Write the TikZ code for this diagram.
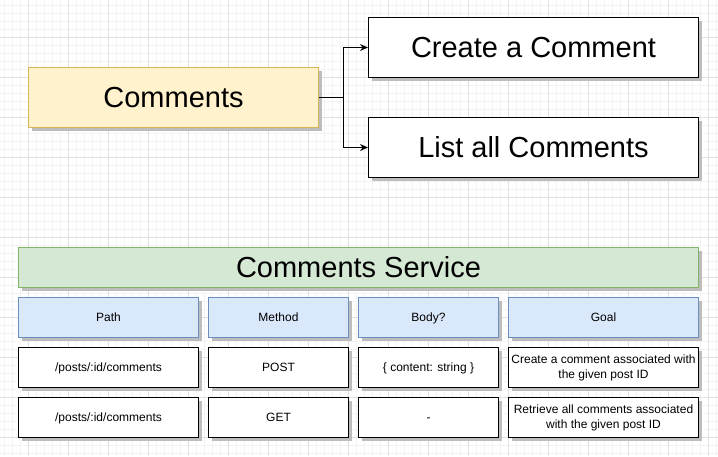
\documentclass[tikz,border=0pt]{standalone}
\usepackage{fontspec}
\setmainfont{Liberation Sans}
\usetikzlibrary{shadows,arrows.meta}
\definecolor{yfill}{HTML}{FFF2CC}
\definecolor{ydraw}{HTML}{D6B656}
\definecolor{gfill}{HTML}{D5E8D4}
\definecolor{gdraw}{HTML}{82B366}
\definecolor{bfill}{HTML}{DAE8FC}
\definecolor{bdraw}{HTML}{6C8EBF}
\definecolor{gridminor}{HTML}{F3F3F3}
\definecolor{gridmajor}{HTML}{E0E0E0}
\definecolor{shadowc}{HTML}{BDBDBD}
\tikzset{
  shd/.style={drop shadow={shadow xshift=3pt,shadow yshift=-3pt,fill=shadowc,opacity=1}},
  basebox/.style={rectangle,draw=black,fill=white,line width=1pt,inner sep=0pt,align=center,shd},
  bigbox/.style={basebox,font=\fontsize{29}{34}\selectfont,text height=20.8pt,text depth=0pt},
  cellbase/.style={basebox,minimum height=40pt,font=\fontsize{12}{15}\selectfont},
  cell/.style={cellbase,text height=8.6pt,text depth=0pt},
  mcell/.style={cellbase},
  headcell/.style={cell,fill=bfill,draw=bdraw},
  conn/.style={line width=1pt,-{Stealth[length=8pt,width=7pt]}},
}
\begin{document}
\begin{tikzpicture}[x=1pt,y=-1pt]
\useasboundingbox (0,0) rectangle (718,456);
\fill[white] (0,0) rectangle (718,456);
% grid
\foreach \x in {4,12,...,716} \draw[gridminor,line width=1pt] (\x,0) -- (\x,456);
\foreach \y in {5,13,...,455} \draw[gridminor,line width=1pt] (0,\y) -- (718,\y);
\foreach \x in {28,68,...,708} \draw[gridmajor,line width=1pt] (\x,0) -- (\x,456);
\foreach \y in {37,77,...,437} \draw[gridmajor,line width=1pt] (0,\y) -- (718,\y);
% top
\node[bigbox,fill=yfill,draw=ydraw,minimum width=290pt,minimum height=60pt] (comments) at (173.5,97.5) {Comments};
\node[bigbox,minimum width=330pt,minimum height=60pt] (create) at (533.5,47.5) {Create a Comment};
\node[bigbox,minimum width=330pt,minimum height=60pt] (list) at (533.5,147.5) {List all Comments};
\coordinate (split) at (343.5,97.5);
\draw[line width=1pt] (comments.east) -- (split);
\draw[conn] (split) |- (create.west);
\draw[conn] (split) |- (list.west);
% bottom
\node[bigbox,fill=gfill,draw=gdraw,minimum width=680pt,minimum height=40pt] (service) at (358.5,267.5) {Comments Service};
\node[headcell,minimum width=180pt] (hpath) at (108.5,317.5) {Path};
\node[headcell,minimum width=140pt] (hmethod) at (278.5,317.5) {Method};
\node[headcell,minimum width=140pt] (hbody) at (428.5,317.5) {Body?};
\node[headcell,minimum width=190pt] (hgoal) at (603.5,317.5) {Goal};
\node[cell,minimum width=180pt] (p1) at (108.5,367.5) {/posts/:id/comments};
\node[cell,minimum width=140pt] (m1) at (278.5,367.5) {POST};
\node[cell,minimum width=140pt] (b1) at (428.5,367.5) {\{ content: string \}};
\node[mcell,minimum width=190pt] (g1) at (603.5,367.5) {Create a comment associated with\\the given post ID};
\node[cell,minimum width=180pt] (p2) at (108.5,417.5) {/posts/:id/comments};
\node[cell,minimum width=140pt] (m2) at (278.5,417.5) {GET};
\node[cell,minimum width=140pt] (b2) at (428.5,417.5) {-};
\node[mcell,minimum width=190pt] (g2) at (603.5,417.5) {Retrieve all comments associated\\with the given post ID};
\end{tikzpicture}
\end{document}
